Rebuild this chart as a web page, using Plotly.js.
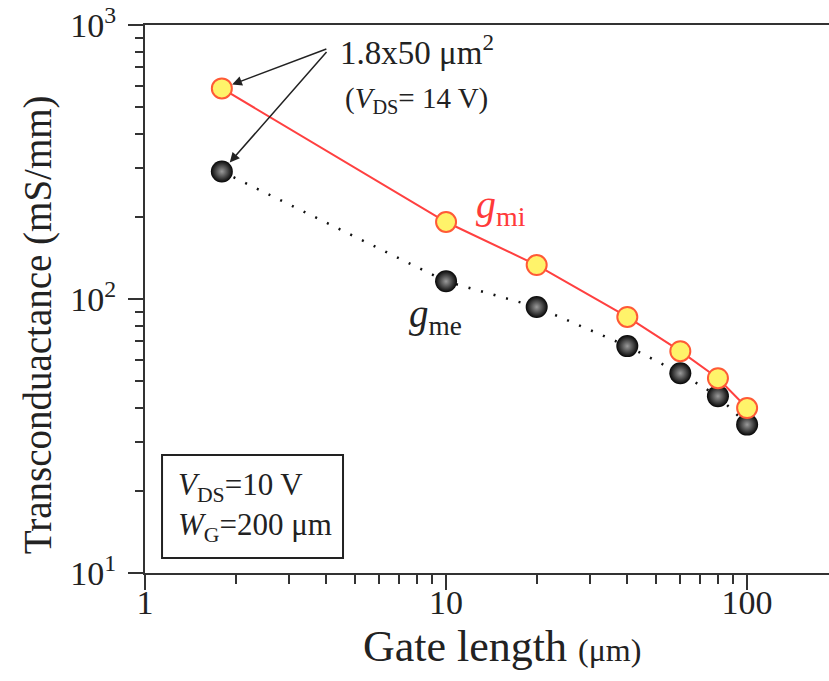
<!DOCTYPE html>
<html>
<head>
<meta charset="utf-8">
<script src="https://cdn.plot.ly/plotly-3.0.1.min.js"></script>
<style>html,body{margin:0;padding:0;background:#fff;}#chart{width:829px;height:681px;}</style>
</head>
<body>
<div id="chart"></div>
<script>
// Gate length (µm)
const gateLength = [1.8, 10, 20, 40, 60, 80, 100];
// Intrinsic transconductance g_mi (mS/mm)
const gmi = [587, 191, 133, 86, 64.5, 51.4, 40];
// Extrinsic transconductance g_me (mS/mm)
const gme = [292, 116, 93.5, 67.3, 53.6, 44.2, 34.8];
const xTickVals = [1, 10, 100];
const xTickText = ['1', '10', '100'];
const xMinorVals = [2, 3, 4, 5, 6, 7, 8, 9, 20, 30, 40, 50, 60, 70, 80, 90];
const yTickVals = [10, 100, 1000];
const yTickText = ['10<sup>1</sup>', '10<sup>2</sup>', '10<sup>3</sup>'];
const yMinorVals = [20, 30, 40, 50, 60, 70, 80, 90, 200, 300, 400, 500, 600, 700, 800, 900];

const serif = '"Liberation Serif", "Times New Roman", serif';
const ink = '#222';

const traces = [
  {
    x: gateLength, y: gme, mode: 'lines+markers', name: 'g_me',
    line: {color: '#111', width: 2.5, dash: '2px,11px'},
    marker: {size: 22, color: '#050505', gradient: {type: 'radial', color: '#9a9a9a'}, line: {width: 0}}
  },
  {
    x: gateLength, y: gmi, mode: 'lines+markers', name: 'g_mi',
    line: {color: '#ff4040', width: 2},
    marker: {size: 20, color: '#fff36a', line: {color: '#ff5a36', width: 2}}
  }
];

const axFont = {family: serif, size: 34, color: ink};
const layout = {
  width: 829, height: 681,
  margin: {l: 145, r: 0, t: 25, b: 108},
  paper_bgcolor: '#fff', plot_bgcolor: '#fff',
  showlegend: false,
  font: {family: serif, color: ink},
  xaxis: {
    type: 'log', range: [0, 2.272],
    tickvals: xTickVals, ticktext: xTickText,
    ticks: 'outside', ticklen: 15, tickwidth: 2, tickcolor: '#333',
    minor: {tickvals: xMinorVals, ticks: 'outside', ticklen: 9, tickwidth: 2, tickcolor: '#333', showgrid: false},
    showline: true, linecolor: '#333', linewidth: 2, mirror: true,
    showgrid: false, zeroline: false,
    tickfont: axFont, ticklabelstandoff: -17
  },
  yaxis: {
    type: 'log', range: [1, 3],
    tickvals: yTickVals, ticktext: yTickText,
    ticks: 'outside', ticklen: 15, tickwidth: 2, tickcolor: '#333',
    minor: {tickvals: yMinorVals, ticks: 'outside', ticklen: 8, tickwidth: 2, tickcolor: '#333', showgrid: false},
    showline: true, linecolor: '#333', linewidth: 2, mirror: false,
    showgrid: false, zeroline: false,
    tickfont: axFont, ticklabelstandoff: 5
  },
  shapes: [
    {type: 'rect', xref: 'paper', yref: 'paper', x0: 0.0249, x1: 0.2895, y0: 0.0274, y1: 0.2153,
     line: {color: ink, width: 2}, fillcolor: '#fff', layer: 'above'}
  ],
  annotations: [
    {xref: 'paper', yref: 'paper', x: 0.522, y: -0.134, xanchor: 'center', yanchor: 'middle', showarrow: false,
     text: 'Gate length <span style="font-size:32px">(μm)</span>', font: {family: serif, size: 44, color: ink}},
    {xref: 'paper', yref: 'paper', x: -0.156, y: 0.4526, xanchor: 'center', yanchor: 'middle', showarrow: false, textangle: -90,
     text: 'Transconduactance (mS/mm)', font: {family: serif, size: 39, color: ink}},
    {xref: 'paper', yref: 'paper', x: 0.282, y: 0.955, xanchor: 'left', yanchor: 'middle', showarrow: false,
     text: '1.8x50 μm<sup>2</sup>', font: {family: serif, size: 33, color: ink}},
    {xref: 'paper', yref: 'paper', x: 0.29, y: 0.863, xanchor: 'left', yanchor: 'middle', showarrow: false,
     text: '(<i>V</i><sub>DS</sub>= 14 V)', font: {family: serif, size: 29, color: ink}},
    {x: Math.log10(gateLength[0]), y: Math.log10(gmi[0]), xref: 'x', yref: 'y', text: '', showarrow: true,
     axref: 'pixel', ayref: 'pixel', ax: 106, ay: -40, arrowhead: 2, arrowsize: 1.3, arrowwidth: 1.5, arrowcolor: ink, standoff: 11},
    {x: Math.log10(gateLength[0]), y: Math.log10(gme[0]), xref: 'x', yref: 'y', text: '', showarrow: true,
     axref: 'pixel', ayref: 'pixel', ax: 106, ay: -121, arrowhead: 2, arrowsize: 1.3, arrowwidth: 1.5, arrowcolor: ink, standoff: 12},
    {xref: 'paper', yref: 'paper', x: 0.52, y: 0.667, xanchor: 'center', yanchor: 'middle', showarrow: false,
     text: '<i>g</i><sub>mi</sub>', font: {family: serif, size: 40, color: '#ff3a3a'}},
    {xref: 'paper', yref: 'paper', x: 0.424, y: 0.468, xanchor: 'center', yanchor: 'middle', showarrow: false,
     text: '<i>g</i><sub>me</sub>', font: {family: serif, size: 39, color: ink}},
    {xref: 'paper', yref: 'paper', x: 0.0453, y: 0.121, xanchor: 'left', yanchor: 'middle', showarrow: false, align: 'left',
     text: '<i>V</i><sub>DS</sub>=10 V<br><i>W</i><sub>G</sub>=200 μm', font: {family: serif, size: 31, color: ink}}
  ]
};

Plotly.newPlot('chart', traces, layout, {staticPlot: true, displayModeBar: false});
</script>
</body>
</html>
